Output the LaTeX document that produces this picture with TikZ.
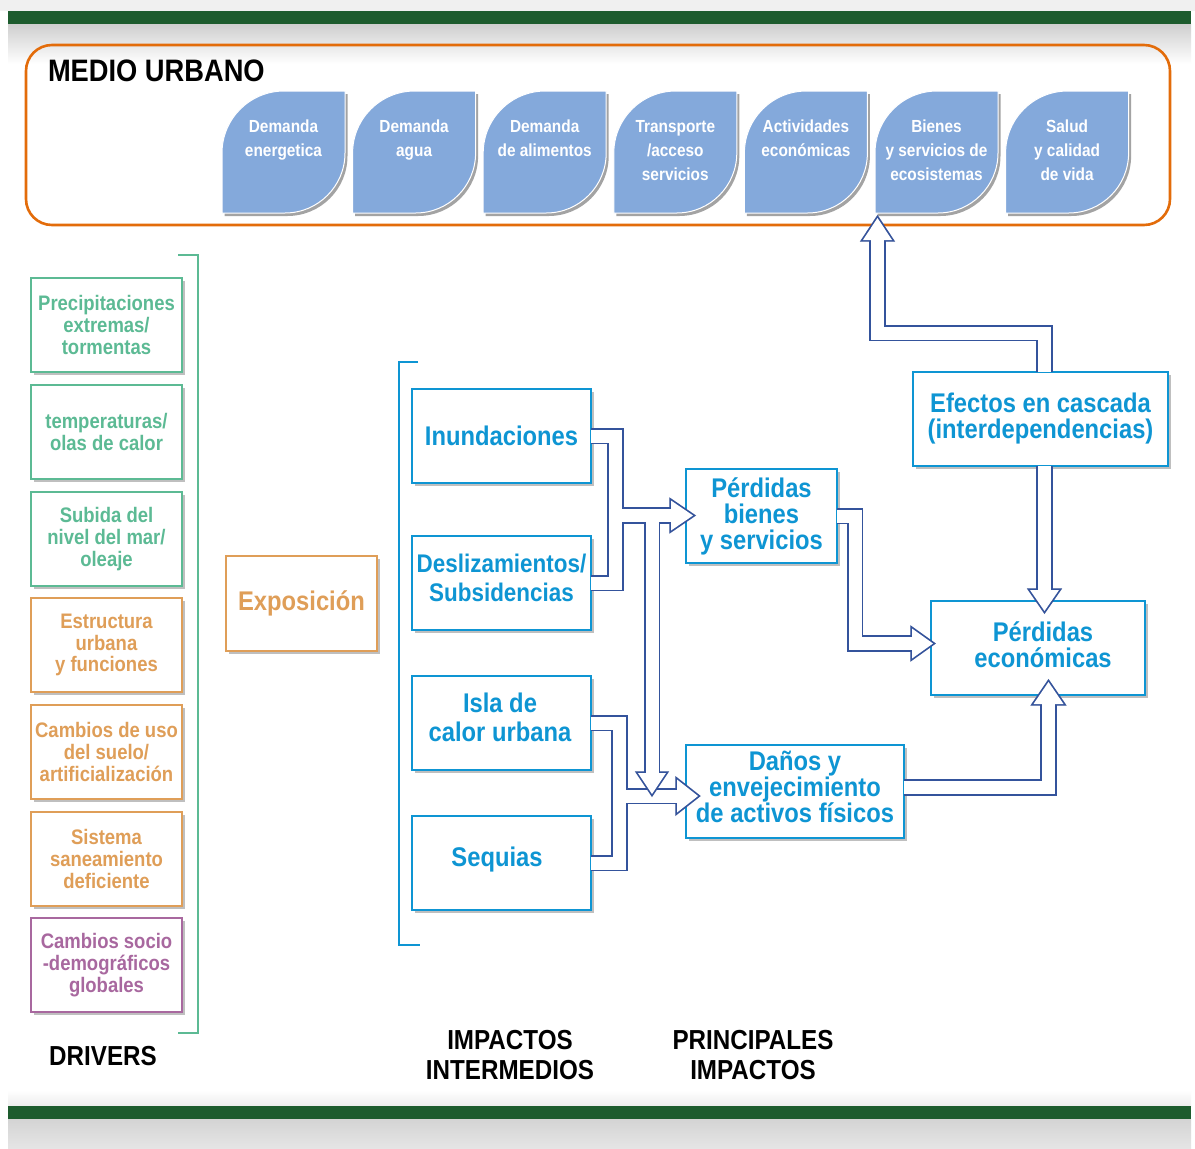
\documentclass[tikz,border=0pt]{standalone}
\usepackage{fontspec}
\setmainfont{Liberation Sans}[FakeStretch=0.88]
\usetikzlibrary{shadows,calc}
\definecolor{dkgreen}{HTML}{1D5C2E}
\definecolor{frameor}{HTML}{E36C0A}
\definecolor{leafblue}{HTML}{84A9DB}
\definecolor{drvgreen}{HTML}{5CBA94}
\definecolor{drvorange}{HTML}{DF9E58}
\definecolor{drvpurple}{HTML}{A8689F}
\definecolor{impblue}{HTML}{0E95D3}
\definecolor{arrblue}{HTML}{34539C}
\tikzset{
  every node/.style={inner sep=0pt, outer sep=0pt},
  shd/.style={drop shadow={shadow xshift=3pt, shadow yshift=-3pt, opacity=0.45, fill=black!55}},
  drv/.style={draw=#1, text=#1, fill=white, line width=2.4pt, minimum width=151pt, minimum height=94pt, align=center, font=\bfseries\fontsize{21}{21.7}\selectfont, shd},
  imp/.style={draw=impblue, text=impblue, fill=white, line width=2.4pt, align=center, minimum height=94pt, font=\bfseries\fontsize{27}{26}\selectfont, shd},
  imptxt/.style={text=impblue, align=center, font=\bfseries\fontsize{27}{26}\selectfont},
  leafshape/.style={fill=leafblue, draw=white, line width=1pt, drop shadow={shadow xshift=2.5pt, shadow yshift=-3pt, opacity=0.55, fill=black!65}},
  leaftxt/.style={text=white, align=center, anchor=north, font=\bfseries\fontsize{17.5}{24}\selectfont},
  ttl/.style={font=\bfseries\fontsize{27.5}{30}\selectfont, align=center, text=black},
  arrout/.style={draw=arrblue, line width=16.6pt, line cap=butt, line join=miter},
  arrin/.style={draw=white, line width=13pt, line cap=butt, line join=miter},
  arrsh/.style={draw=black, opacity=0.15, line width=16.6pt, line join=miter},
  headout/.style={fill=arrblue, draw=arrblue, line width=3.4pt, line join=miter},
  headin/.style={fill=white},
  headsh/.style={fill=black, draw=black, line width=3.4pt, opacity=0.15},
}
\newcommand\mkleaf[3]{%
  \draw[leafshape] (#1,213) -- (#1,153) .. controls (#1,118.8) and ({#1+27.8},91) .. ({#1+62},91) -- ({#1+123},91) -- ({#1+123},153) .. controls ({#1+123},186.1) and ({#1+96.1},213) .. ({#1+63},213) -- cycle;
  \node[leaftxt] (#2) at ({#1+61.5},120) {#3};
}
\newcommand\grpB[2]{%
  \draw[#1] (isla.east) -- ++(28.5,0) |- (seq.east);
  \draw[#1] (jB) -- ($(tB)+(-21,0)$);
  \path[#2] (tB) -- ++(-21,-16.5) -- ++(0,33) -- cycle;
}
\newcommand\grpM[2]{%
  \draw[#1] (inund.east) -- ++(24.5,0) |- (desl.east);
  \draw[#1] (jA) -- ($(tA)+(-22,0)$);
  \draw[#1] (jAd) -- ($(tAd)+(0,-21)$);
  \draw[#1] (pbienes.east) -- ++(18,0) |- ($(tC)+(-21,0)$);
  \draw[#1] ($(danos.east)+(0,-4)$) -| ($(tDu)+(0,22)$);
  \draw[#1] ($(efectos.south)+(4,0)$) -- ($(tE)+(0,-21)$);
  \draw[#1] ($(efectos.north)+(4,0)$) -- ++(0,-39) -| ($(tF)+(0,22)$);
  \path[#2] (tA) -- ++(-22,-15) -- ++(0,30) -- cycle;
  \path[#2] (tAd) -- ++(-14,-21) -- ++(28,0) -- cycle;
  \path[#2] (tC) -- ++(-21,-15) -- ++(0,30) -- cycle;
  \path[#2] (tDu) -- ++(-15,22) -- ++(30,0) -- cycle;
  \path[#2] (tE) -- ++(-14.5,-21) -- ++(29,0) -- cycle;
  \path[#2] (tF) -- ++(-14.5,22) -- ++(29,0) -- cycle;
}
\begin{document}
\begin{tikzpicture}[x=1pt,y=-1pt]
\useasboundingbox (0,0) rectangle (1195,1149);
% background
\fill[white] (0,0) rectangle (1195,1149);
\fill[black!6] (0,0) rectangle (1195,11);
\fill[dkgreen] (8,11) rectangle (1191,24);
\shade[top color=black!19, bottom color=white] (8,24) rectangle (1191,64);
\shade[top color=white, bottom color=black!7] (8,1090) rectangle (1191,1106);
\fill[dkgreen] (8,1106) rectangle (1191,1119);
\shade[top color=black!17, bottom color=black!10] (8,1119) rectangle (1191,1149);
% medio urbano frame
\draw[frameor, line width=2.6pt, rounded corners=26pt] (26,45) rectangle (1170,225);
\node[font=\bfseries\fontsize{31}{31}\selectfont, anchor=base west] (mu) at (48,81) {MEDIO URBANO};
\mkleaf{222}{la}{Demanda\\energetica}
\mkleaf{352.6}{lb}{Demanda\\agua}
\mkleaf{483.2}{lc}{Demanda\\de alimentos}
\mkleaf{613.8}{ld}{Transporte\\/acceso\\servicios}
\mkleaf{744.4}{le}{Actividades\\económicas}
\mkleaf{875}{lf}{Bienes\\y servicios de\\ecosistemas}
\mkleaf{1005.6}{lg}{Salud\\y calidad\\de vida}
% drivers
\node[drv=drvgreen] (d1) at (106.5,325) {Precipitaciones\\extremas/\\tormentas};
\node[drv=drvgreen] (d2) at (106.5,432) {temperaturas/\\olas de calor};
\node[drv=drvgreen] (d3) at (106.5,539) {Subida del\\nivel del mar/\\oleaje};
\node[drv=drvorange] (d4) at (106.5,645) {Estructura\\urbana\\y funciones};
\node[drv=drvorange] (d5) at (106.5,752) {Cambios de uso\\del suelo/\\artificialización};
\node[drv=drvorange] (d6) at (106.5,859) {Sistema\\saneamiento\\deficiente};
\node[drv=drvpurple] (d7) at (106.5,965) {Cambios socio\\-demográficos\\globales};
\draw[drvgreen, line width=2pt] (178,255) -- (198,255) -- (198,1033) -- (178,1033);
\node[ttl] (drvlab) at (103,1056) {DRIVERS};
% exposicion
\node[drv=drvorange, minimum height=95pt, font=\bfseries\fontsize{27}{27}\selectfont] (expo) at (301.5,603.5) {Exposición};
% impactos intermedios
\draw[impblue, line width=2pt] (418,362) -- (399,362) -- (399,945) -- (420,945);
\node[imp, minimum width=179pt] (inund) at (501.5,436) {Inundaciones};
\node[imp, minimum width=179pt] (desl) at (501.5,583) {};
\node[imptxt, font=\bfseries\fontsize{25.5}{29}\selectfont] (deslt) at (501.5,578) {Deslizamientos/\\Subsidencias};
\node[imp, minimum width=179pt] (isla) at (501.5,723) {};
\node[imptxt, font=\bfseries\fontsize{27}{29}\selectfont] (islat) at (500,717) {Isla de\\calor urbana};
\node[imp, minimum width=179pt] (seq) at (501.5,863) {};
\node[imptxt] (seqt) at (497,860) {Sequias};
% principales
\node[imp, minimum width=151pt] (pbienes) at (761.5,516) {Pérdidas\\bienes\\y servicios};
\node[imp, minimum width=218pt, minimum height=93pt] (danos) at (795,791.5) {};
\node[imptxt] (danost) at (795,787) {Daños y\\envejecimiento\\de activos físicos};
\node[imp, minimum width=255pt] (efectos) at (1040.5,419) {Efectos en cascada\\(interdependencias)};
\node[imp, minimum width=214pt] (pecon) at (1038,648) {};
\node[imptxt] (pecont) at (1043,645) {Pérdidas\\económicas};
\node[ttl] (iilab) at (510,1055) {IMPACTOS\\INTERMEDIOS};
\node[ttl] (pilab) at (753,1055) {PRINCIPALES\\IMPACTOS};
% arrow coordinates
\coordinate (jB) at (619.5,796);
\coordinate (tB) at (698,796);
\coordinate (jA) at (615.5,515.5);
\coordinate (tA) at (693,515.5);
\coordinate (jAd) at (652,515.5);
\coordinate (tAd) at (652,794);
\coordinate (tC) at (933,643.5);
\coordinate (tDu) at (1048.5,682);
\coordinate (tE) at (1044.5,611);
\coordinate (tF) at (877.5,218);
% arrows
\begin{scope}[shift={(3,3)}]
\grpB{arrsh}{headsh}
\end{scope}
\grpB{arrout}{headout}
\grpB{arrin}{headin}
\begin{scope}[shift={(3,3)}]
\grpM{arrsh}{headsh}
\end{scope}
\grpM{arrout}{headout}
\grpM{arrin}{headin}
\end{tikzpicture}
\end{document}
